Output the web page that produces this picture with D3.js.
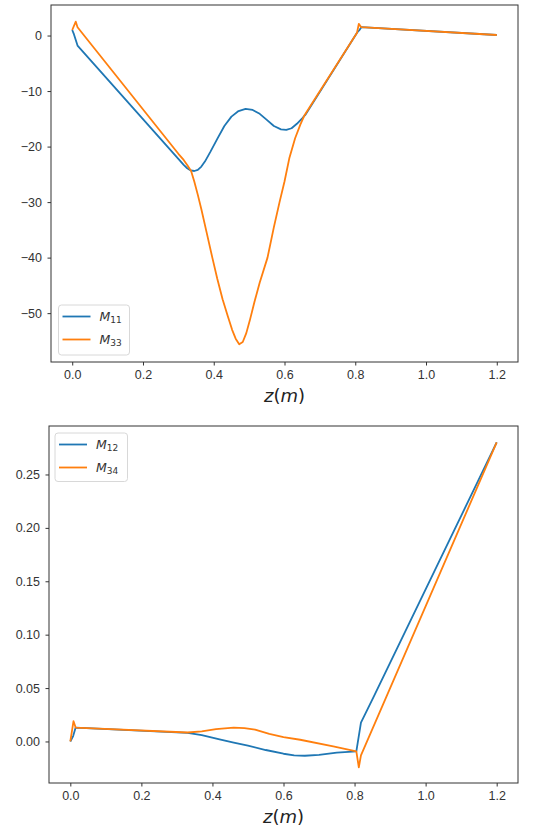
<!DOCTYPE html>
<html>
<head>
<meta charset="utf-8">
<script src="https://cdn.jsdelivr.net/npm/d3@7"></script>
<style>
body { margin: 0; background: #fff; }
svg { display: block; font-family: "DejaVu Sans", sans-serif; }
.tick text { fill: #333; font-size: 12.5px; }
.tick line { stroke: #333; }
.domain { display: none; }
</style>
</head>
<body>
<svg width="535" height="837"></svg>
<script>
// top panel: M11 and M33
var m11Z = [0, 0.005, 0.015, 0.30, 0.315, 0.325, 0.335, 0.345, 0.355, 0.365, 0.375, 0.39, 0.41, 0.43, 0.45, 0.47, 0.49, 0.51, 0.53, 0.55, 0.57, 0.59, 0.605, 0.62, 0.635, 0.65, 0.66, 0.805, 0.812, 0.817, 1.2];
var m11 = [1.0, 0.2, -1.8, -22.2, -23.3, -23.9, -24.3, -24.4, -24.2, -23.6, -22.7, -21.0, -18.6, -16.3, -14.6, -13.6, -13.2, -13.4, -14.1, -15.2, -16.3, -16.9, -17.0, -16.7, -15.9, -14.9, -14.2, 0.5, 1.0, 1.5, 0.1];
var m33Z = [0, 0.01, 0.015, 0.30, 0.315, 0.325, 0.336, 0.345, 0.355, 0.365, 0.38, 0.396, 0.41, 0.425, 0.44, 0.452, 0.462, 0.472, 0.482, 0.492, 0.502, 0.515, 0.53, 0.552, 0.57, 0.586, 0.60, 0.614, 0.63, 0.645, 0.657, 0.805, 0.81, 0.817, 1.2];
var m33 = [1.0, 2.5, 1.5, -21.3, -22.4, -23.3, -24.4, -26.3, -28.7, -31.3, -35.5, -40.0, -43.8, -47.5, -50.6, -53.0, -54.6, -55.6, -55.2, -53.6, -51.3, -48.0, -44.5, -40.0, -34.5, -30.0, -26.3, -22.0, -18.5, -16.0, -14.3, 0.5, 2.1, 1.5, 0.1];

// bottom panel: M12 and M34
var m12Z = [0, 0.008, 0.015, 0.33, 0.37, 0.42, 0.46, 0.5, 0.55, 0.6, 0.63, 0.66, 0.7, 0.75, 0.805, 0.818, 0.854, 1.2];
var m12 = [0.0, 0.005, 0.013, 0.008, 0.006, 0.002, -0.001, -0.004, -0.008, -0.0115, -0.013, -0.0134, -0.0125, -0.0105, -0.0093, 0.0177, 0.042, 0.280];
var m34Z = [0, 0.009, 0.015, 0.33, 0.37, 0.41, 0.46, 0.49, 0.52, 0.56, 0.6, 0.647, 0.74, 0.805, 0.812, 0.818, 1.2];
var m34 = [0.0, 0.019, 0.013, 0.0084, 0.0095, 0.0115, 0.013, 0.0125, 0.011, 0.007, 0.004, 0.0016, -0.0047, -0.0093, -0.0242, -0.013, 0.280];

var xTicks = [0, 0.2, 0.4, 0.6, 0.8, 1.0, 1.2];
var topTicks = [0, -10, -20, -30, -40, -50];
var botTicks = [0, 0.05, 0.10, 0.15, 0.20, 0.25];

var blue = "#1f77b4", orange = "#ff7f0e";
var svg = d3.select("svg");

function zip(zs, vs) {
	return zs.map(function(z, i) { return { z: z, v: vs[i] }; });
}

function panel(box, yDomain, yTicks, yFmt, series, legendBox) {
	var x = d3.scaleLinear().domain([-0.06, 1.26]).range([box.left, box.right]);
	var y = d3.scaleLinear().domain(yDomain).range([box.bottom, box.top]);

	svg.append("g")
		.attr("transform", "translate(0," + box.bottom + ")")
		.call(d3.axisBottom(x).tickValues(xTicks).tickSize(3.5).tickPadding(5).tickFormat(d3.format(".1f")));

	svg.append("g")
		.attr("transform", "translate(" + box.left + ",0)")
		.call(d3.axisLeft(y).tickValues(yTicks).tickSize(3.5).tickPadding(5.5).tickFormat(yFmt));

	var line = d3.line()
		.x(function(d) { return x(d.z); })
		.y(function(d) { return y(d.v); });

	series.forEach(function(s) {
		svg.append("path")
			.attr("d", line(s.data))
			.attr("fill", "none")
			.attr("stroke", s.color)
			.attr("stroke-width", 1.8)
			.attr("stroke-linejoin", "round");
	});

	svg.append("rect")
		.attr("x", box.left)
		.attr("y", box.top)
		.attr("width", box.right - box.left)
		.attr("height", box.bottom - box.top)
		.attr("fill", "none")
		.attr("stroke", "#333")
		.attr("stroke-width", 1);

	// legend
	svg.append("rect")
		.attr("x", legendBox.x)
		.attr("y", legendBox.y)
		.attr("width", legendBox.w)
		.attr("height", legendBox.h)
		.attr("rx", 3)
		.attr("fill", "#fff")
		.attr("fill-opacity", 0.8)
		.attr("stroke", "#d8d8d8");

	series.forEach(function(s, i) {
		var ly = legendBox.y + 11.5 + i * 23;
		svg.append("line")
			.attr("x1", legendBox.x + 4)
			.attr("x2", legendBox.x + 32)
			.attr("y1", ly)
			.attr("y2", ly)
			.attr("stroke", s.color)
			.attr("stroke-width", 1.8);
		var t = svg.append("text")
			.attr("x", legendBox.x + 41)
			.attr("y", ly + 4)
			.attr("fill", "#333")
			.style("font-size", "12.5px");
		t.append("tspan").style("font-style", "italic").text("M");
		t.append("tspan").attr("dy", 2.5).style("font-size", "9px").text(s.sub);
	});

	// x label z(m)
	var lab = svg.append("text")
		.attr("x", (box.left + box.right) / 2)
		.attr("y", box.bottom + 40)
		.attr("text-anchor", "middle")
		.attr("fill", "#222")
		.style("font-size", "18px");
	lab.append("tspan").style("font-style", "italic").text("z");
	lab.append("tspan").text("(");
	lab.append("tspan").style("font-style", "italic").text("m");
	lab.append("tspan").text(")");
}

var minus = function(f) {
	return function(d) { return f(d).replace("-", "\u2212"); };
};

panel({ left: 51, right: 518, top: 5, bottom: 362 }, [-58.8, 5.5], topTicks, minus(d3.format("d")),
	[{ data: zip(m11Z, m11), color: blue, sub: "11" }, { data: zip(m33Z, m33), color: orange, sub: "33" }],
	{ x: 58.5, y: 305, w: 71, h: 50 });

panel({ left: 49, right: 518, top: 426, bottom: 783 }, [-0.0389, 0.2954], botTicks, minus(d3.format(".2f")),
	[{ data: zip(m12Z, m12), color: blue, sub: "12" }, { data: zip(m34Z, m34), color: orange, sub: "34" }],
	{ x: 55, y: 433, w: 72.5, h: 48.5 });
</script>
</body>
</html>
